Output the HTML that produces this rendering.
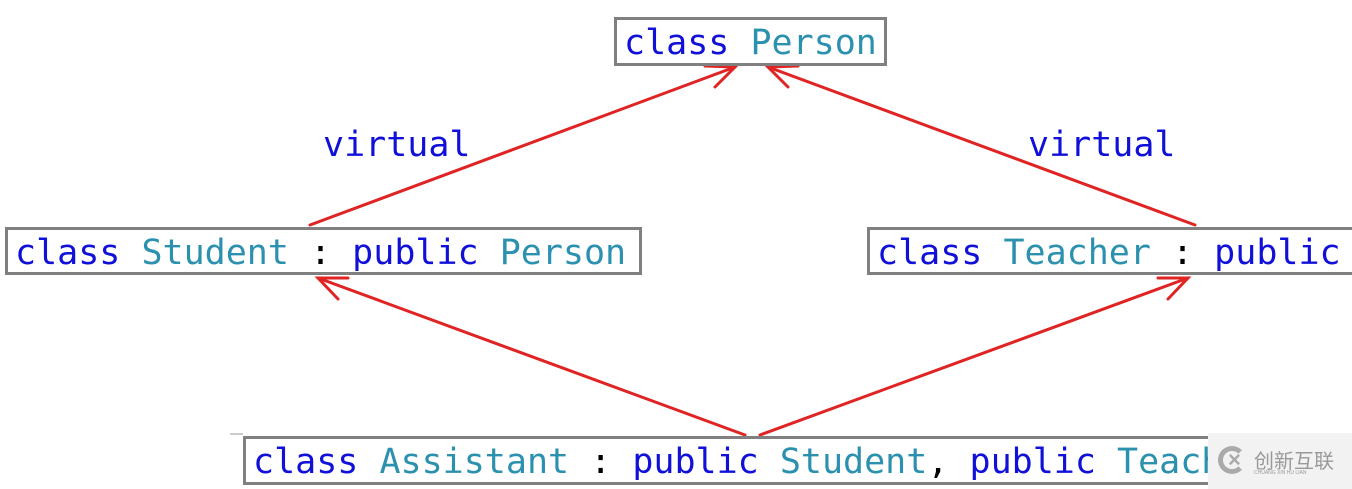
<!DOCTYPE html>
<html><head><style>
body{margin:0;width:1352px;height:489px;background:#fff;position:relative;overflow:hidden;font-family:"DejaVu Sans Mono","Liberation Mono",monospace;}
.b{position:absolute;border:3px solid #808080;box-sizing:border-box;font-size:35px;line-height:46px;padding-left:7px;white-space:nowrap;overflow:hidden;color:#1010d8;}
.t{color:#2b91af}
.c{color:#000}
.v{position:absolute;font-size:35px;color:#1010d8;line-height:44px;}
</style></head><body>
<svg width="1352" height="489" style="position:absolute;left:0;top:0">
<g stroke="#e02424" stroke-width="3" fill="none" stroke-linecap="round">
<line x1="310" y1="225" x2="735" y2="67"/><polyline points="705,66 735,67 715,87"/>
<line x1="1195" y1="225" x2="768" y2="67"/><polyline points="798,66 768,67 788,87"/>
<line x1="745" y1="435" x2="318" y2="278"/><polyline points="338,299 318,278 348,278"/>
<line x1="760" y1="435" x2="1188" y2="278"/><polyline points="1158,278 1188,278 1168,299"/>
</g>
<line x1="230" y1="434" x2="243" y2="434" stroke="#999" stroke-width="1"/>
</svg>
<div class="b" style="left:614px;top:17px;width:273px;height:49px">class <span class="t">Person</span></div>
<div class="b" style="left:5px;top:227px;width:637px;height:48px">class <span class="t">Student</span> <span class="c">:</span> public <span class="t">Person</span></div>
<div class="b" style="left:867px;top:227px;width:500px;height:48px">class <span class="t">Teacher</span> <span class="c">:</span> public</div>
<div class="b" style="left:243px;top:436px;width:1000px;height:49px">class <span class="t">Assistant</span> <span class="c">:</span> public <span class="t">Student</span><span class="c">,</span> public <span class="t">Teacher</span></div>
<div class="v" style="left:323px;top:123px">virtual</div>
<div class="v" style="left:1028px;top:123px">virtual</div>
<div style="position:absolute;left:1208px;top:433px;width:144px;height:56px;background:#f2f2f2;font-family:'Liberation Sans','Noto Sans CJK SC',sans-serif;color:#999;">
<div style="position:absolute;left:10px;top:13px;width:28px;height:28px;border:5px solid #aaa;border-right-color:transparent;border-radius:50%;box-sizing:border-box;"></div>
<div style="position:absolute;left:20px;top:14px;font-size:22px;font-weight:bold;color:#aaa;">×</div>
<div style="position:absolute;left:46px;top:12px;font-size:20px;">创新互联</div>
<div style="position:absolute;left:46px;top:37px;font-size:5px;">CHUANG XIN HU LIAN</div>
</div>
</body></html>
